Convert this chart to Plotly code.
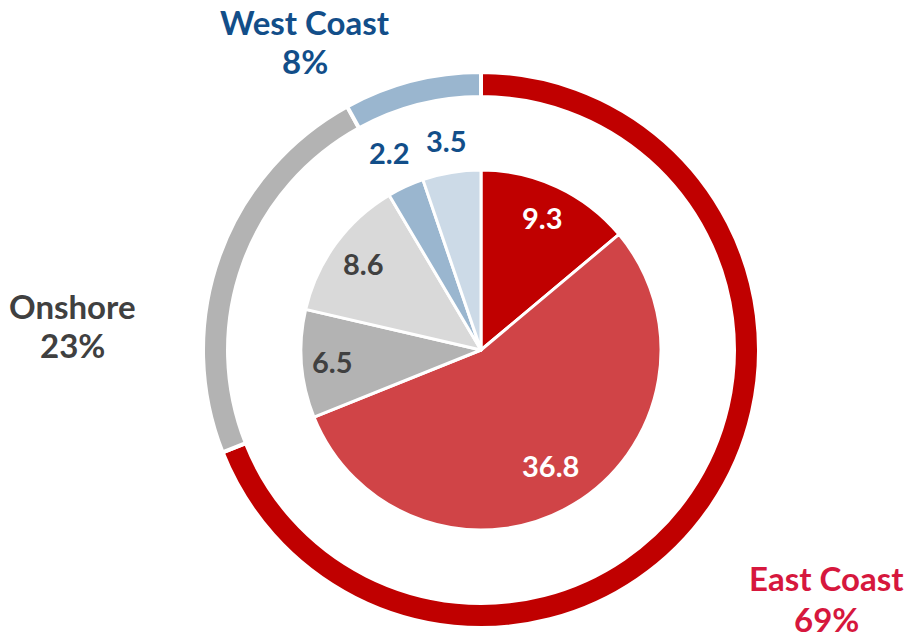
import math
import plotly.graph_objects as go

# ---- data ----
inner_labels = ["East Coast A", "East Coast B", "Onshore A", "Onshore B", "West Coast A", "West Coast B"]
inner_values = [9.3, 36.8, 6.5, 8.6, 2.2, 3.5]
outer_labels = ["East Coast", "Onshore", "West Coast"]
outer_values = [69, 23, 8]

# ---- style ----
W, H = 908, 640
CX, CY = 481, 350          # pixel centre
R_OUT, R_IN = 278, 180
HOLE = 0.91
FONT = "Lato"

inner_colors = ["#C00000", "#D04447", "#B3B3B3", "#D9D9D9", "#9AB6CF", "#CCDAE7"]
outer_colors = ["#C00000", "#B3B3B3", "#9AB6CF"]
inner_text_colors = ["white", "white", "#404040", "#404040", "#124E89", "#124E89"]
inner_text_rfac = [0.81, 0.75, 0.83, 0.81, 1.21, 1.18]
outer_text_colors = ["#D6173D", "#404040", "#124E89"]
# (x centre, first-line y, second-line y) in pixels
outer_label_px = [(826, 578, 619), (72, 306, 345), (305, 22, 61)]


def dom(r):
    return dict(x=[(CX - r) / W, (CX + r) / W],
                y=[(H - CY - r) / H, (H - CY + r) / H])


fig = go.Figure()
fig.add_trace(go.Pie(
    values=outer_values, labels=outer_labels, hole=HOLE, sort=False,
    direction="clockwise", rotation=0, textinfo="none",
    marker=dict(colors=outer_colors, line=dict(color="white", width=4)),
    domain=dom(R_OUT), showlegend=False))
fig.add_trace(go.Pie(
    values=inner_values, labels=inner_labels, sort=False,
    direction="clockwise", rotation=0, textinfo="none",
    marker=dict(colors=inner_colors, line=dict(color="white", width=3)),
    domain=dom(R_IN), showlegend=False))

annotations = []
total = sum(inner_values)
cum = 0.0
for v, col, rf in zip(inner_values, inner_text_colors, inner_text_rfac):
    mid = (cum + v / 2) / total * 2 * math.pi
    cum += v
    px = CX + rf * R_IN * math.sin(mid)
    py = CY - rf * R_IN * math.cos(mid)
    annotations.append(dict(
        x=px / W, y=1 - py / H, xref="paper", yref="paper",
        xanchor="center", yanchor="middle",
        text=f"{v:.1f}", showarrow=False,
        font=dict(family=FONT, size=29, color=col, weight="bold")))

for lab, v, col, (px, py1, py2) in zip(outer_labels, outer_values, outer_text_colors, outer_label_px):
    for txt, py in ((lab, py1), (f"{v}%", py2)):
        annotations.append(dict(
            x=px / W, y=1 - py / H, xref="paper", yref="paper",
            xanchor="center", yanchor="middle",
            text=txt, showarrow=False,
            font=dict(family=FONT, size=33, color=col, weight="bold")))

fig.update_layout(
    width=W, height=H, margin=dict(l=0, r=0, t=0, b=0),
    paper_bgcolor="white", plot_bgcolor="white",
    annotations=annotations, showlegend=False)

fig.write_html("out.html")
